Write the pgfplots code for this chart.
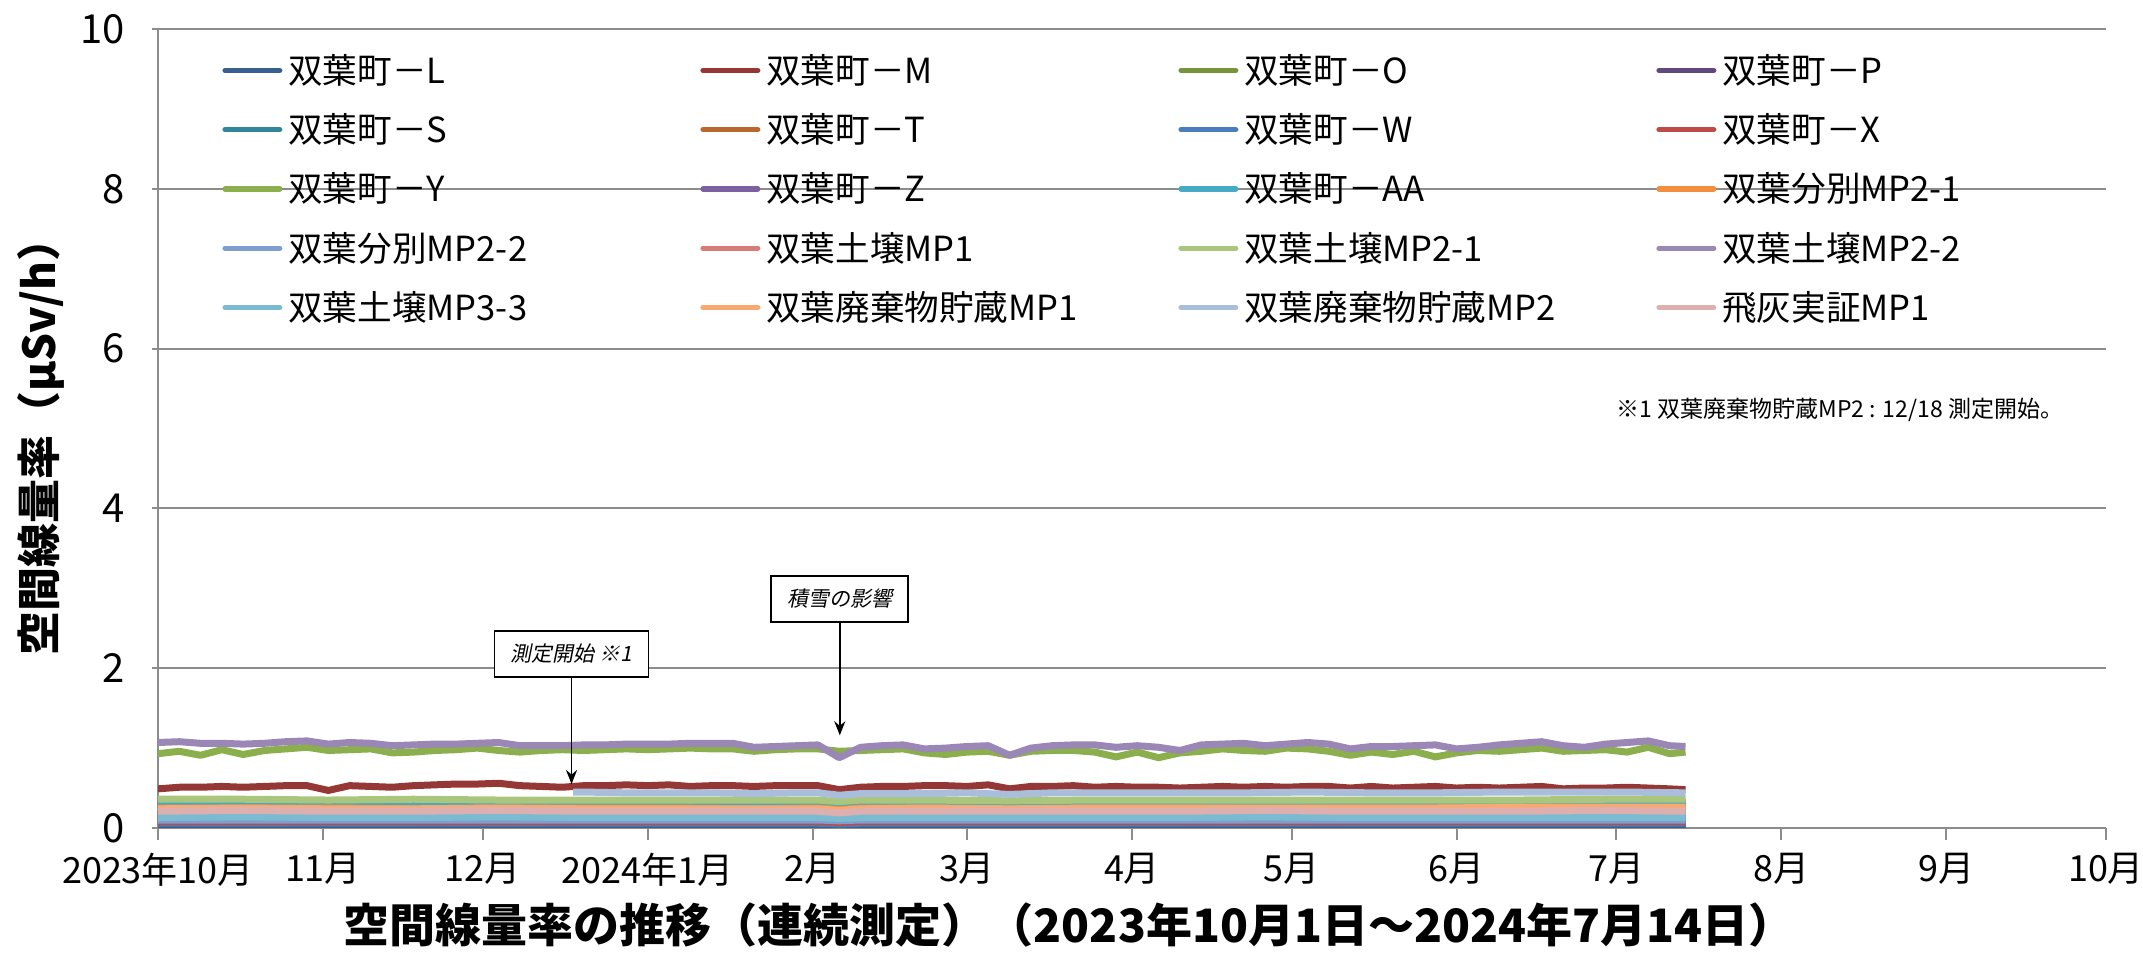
\documentclass[border=0pt]{standalone}
\usepackage{fontspec}
\setmainfont{Noto Sans CJK JP}
\newfontfamily\slantfont[FakeSlant=0.2]{Noto Sans CJK JP}
\usepackage{pgfplots}
\pgfplotsset{compat=1.18}
\usepackage{pgfplotstable}
\usetikzlibrary{arrows.meta}
\definecolor{axgray}{HTML}{8C8C8C}
\definecolor{cL}{HTML}{3A5F8F}
\definecolor{cM}{HTML}{953735}
\definecolor{cO}{HTML}{77933C}
\definecolor{cP}{HTML}{604A7B}
\definecolor{cS}{HTML}{31859C}
\definecolor{cT}{HTML}{B8682F}
\definecolor{cW}{HTML}{4A7EBB}
\definecolor{cX}{HTML}{BE4B48}
\definecolor{cY}{HTML}{8CAF4D}
\definecolor{cZ}{HTML}{7D60A0}
\definecolor{cAA}{HTML}{46AAC5}
\definecolor{cBa}{HTML}{F38E3F}
\definecolor{cBb}{HTML}{7F9ECF}
\definecolor{cSa}{HTML}{D67B77}
\definecolor{cSb}{HTML}{A9C67C}
\definecolor{cSc}{HTML}{9B87B6}
\definecolor{cSd}{HTML}{7BBBD2}
\definecolor{cHa}{HTML}{F9A870}
\definecolor{cHb}{HTML}{A9BEDB}
\definecolor{cF}{HTML}{DDB0AF}

\pgfplotstableread{
d    Y     M     S22
0    0.93  0.49  1.07
4    0.96  0.51  1.08
8    0.91  0.51  1.06
12   0.98  0.52  1.06
16   0.92  0.51  1.05
20   0.97  0.52  1.06
24   0.99  0.53  1.08
28   1.01  0.53  1.09
32   0.97  0.47  1.05
36   0.98  0.53  1.07
40   0.99  0.52  1.06
44   0.94  0.51  1.03
48   0.95  0.53  1.04
52   0.97  0.54  1.05
56   0.98  0.55  1.05
60   1.00  0.55  1.06
64   0.97  0.56  1.07
68   0.95  0.53  1.03
72   0.97  0.52  1.03
76   0.98  0.51  1.03
80   0.97  0.53  1.04
84   0.98  0.53  1.04
88   0.99  0.54  1.05
92   0.98  0.53  1.05
96   0.99  0.54  1.05
100  1.00  0.52  1.06
104  0.99  0.53  1.06
108  0.99  0.53  1.06
112  0.96  0.52  1.01
116  0.98  0.53  1.02
120  0.99  0.53  1.03
124  0.99  0.53  1.04
128  0.96  0.48  0.88
132  0.97  0.51  1.01
136  0.98  0.52  1.03
140  0.99  0.52  1.04
144  0.94  0.53  0.99
148  0.92  0.53  1.00
152  0.95  0.52  1.02
156  0.96  0.54  1.03
160  0.91  0.49  0.91
164  0.96  0.52  1.00
168  0.97  0.52  1.03
172  0.97  0.53  1.04
176  0.95  0.51  1.04
180  0.89  0.52  1.01
184  0.95  0.51  1.03
188  0.88  0.51  1.01
192  0.94  0.50  0.97
196  0.96  0.51  1.04
200  0.99  0.52  1.05
204  0.97  0.51  1.06
208  0.96  0.52  1.03
212  1.00  0.51  1.05
216  0.99  0.52  1.07
220  0.96  0.52  1.05
224  0.91  0.50  0.99
228  0.95  0.52  1.02
232  0.92  0.50  1.02
236  0.96  0.51  1.03
240  0.89  0.52  1.04
244  0.94  0.50  0.99
248  0.97  0.51  1.01
252  0.96  0.50  1.04
256  0.98  0.51  1.06
260  1.00  0.52  1.08
264  0.96  0.49  1.03
268  0.97  0.50  1.01
272  0.98  0.50  1.05
276  0.95  0.51  1.07
280  1.01  0.50  1.09
284  0.93  0.49  1.03
287  0.95  0.48  1.02
}\maintab

\pgfplotstableread{
d   L    O    P    S    T    W    X    Z    AA   Ba   Bb   Sa   Sb   Sd   Ha   F
0   0.05 0.18 0.29 0.32 0.16 0.06 0.08 0.19 0.31 0.25 0.10 0.20 0.36 0.13 0.24 0.21
16  0.05 0.18 0.30 0.32 0.16 0.06 0.08 0.19 0.31 0.25 0.10 0.20 0.36 0.14 0.25 0.22
32  0.05 0.19 0.29 0.33 0.17 0.06 0.08 0.19 0.32 0.25 0.10 0.20 0.35 0.13 0.24 0.21
48  0.05 0.18 0.30 0.32 0.16 0.06 0.08 0.19 0.31 0.24 0.10 0.20 0.36 0.13 0.24 0.21
64  0.05 0.18 0.30 0.33 0.16 0.06 0.08 0.20 0.31 0.25 0.10 0.21 0.35 0.14 0.25 0.22
80  0.05 0.18 0.29 0.32 0.16 0.06 0.08 0.19 0.31 0.25 0.10 0.20 0.35 0.13 0.24 0.21
96  0.05 0.18 0.30 0.32 0.16 0.06 0.08 0.19 0.31 0.25 0.10 0.20 0.35 0.13 0.24 0.21
112 0.05 0.18 0.29 0.32 0.16 0.06 0.08 0.19 0.31 0.24 0.10 0.20 0.35 0.13 0.24 0.21
124 0.05 0.18 0.29 0.32 0.16 0.06 0.08 0.19 0.31 0.25 0.10 0.20 0.35 0.13 0.24 0.21
128 0.05 0.17 0.28 0.30 0.15 0.05 0.07 0.18 0.29 0.23 0.09 0.18 0.33 0.12 0.22 0.19
132 0.05 0.18 0.29 0.32 0.16 0.06 0.08 0.19 0.31 0.25 0.10 0.20 0.35 0.13 0.24 0.21
144 0.05 0.18 0.29 0.32 0.16 0.06 0.08 0.19 0.31 0.25 0.10 0.20 0.35 0.13 0.25 0.21
160 0.05 0.17 0.29 0.31 0.16 0.06 0.08 0.19 0.30 0.24 0.10 0.19 0.34 0.13 0.24 0.21
176 0.05 0.18 0.29 0.32 0.16 0.06 0.08 0.19 0.31 0.25 0.10 0.20 0.35 0.13 0.25 0.21
192 0.05 0.18 0.29 0.32 0.16 0.06 0.08 0.19 0.31 0.25 0.10 0.20 0.35 0.13 0.25 0.21
208 0.05 0.18 0.30 0.32 0.16 0.06 0.08 0.19 0.31 0.25 0.10 0.20 0.35 0.14 0.25 0.22
224 0.05 0.18 0.29 0.32 0.16 0.06 0.08 0.19 0.31 0.25 0.10 0.20 0.35 0.13 0.25 0.21
240 0.05 0.18 0.29 0.32 0.16 0.06 0.08 0.19 0.31 0.25 0.10 0.20 0.35 0.13 0.25 0.21
256 0.05 0.18 0.29 0.32 0.16 0.06 0.08 0.19 0.31 0.25 0.10 0.20 0.35 0.13 0.26 0.21
272 0.05 0.18 0.29 0.32 0.16 0.06 0.08 0.19 0.31 0.25 0.10 0.20 0.36 0.13 0.26 0.22
287 0.05 0.18 0.29 0.32 0.16 0.06 0.08 0.19 0.31 0.25 0.10 0.20 0.36 0.13 0.26 0.21
}\lowtab

\pgfplotstableread{
d   Hb
78  0.45
80  0.45
88  0.44
96  0.44
104 0.44
112 0.43
120 0.44
124 0.44
128 0.41
132 0.43
144 0.43
152 0.44
160 0.42
168 0.44
180 0.44
192 0.44
204 0.44
216 0.45
228 0.44
240 0.44
252 0.45
264 0.45
276 0.45
287 0.44
}\hbtab

\newcommand\LE[1]{\makebox[209pt][l]{\hspace{3pt}#1}}

\begin{document}
\begin{tikzpicture}
\begin{axis}[
  at={(0pt,0pt)}, anchor=south west,
  scale only axis, width=974pt, height=399.5pt,
  xmin=0, xmax=366, ymin=0, ymax=10,
  axis x line*=bottom, axis y line*=left,
  axis line style={draw=axgray, line width=1pt, -},
  xtick={0,31,61,92,123,152,183,213,244,274,305,336,366},
  xticklabels={2023年10月,11月,12月,2024年1月,2月,3月,4月,5月,6月,7月,8月,9月,10月},
  ytick={0,2,4,6,8,10},
  ymajorgrids, grid style={draw=axgray, line width=1pt},
  major tick length=6pt,
  xtick align=outside, ytick align=center,
  tick style={draw=axgray, line width=1pt},
  /pgf/number format/assume math mode=true,
  yticklabel style={font=\fontsize{20}{20}\selectfont, xshift=-10pt},
  xticklabel style={font=\fontsize{18}{18}\selectfont, yshift=-3pt},
  ylabel={\bfseries 空間線量率（μSv/h）},
  ylabel style={font=\fontsize{22}{22}\selectfont, at={(axis description cs:-0.06,0.49)}, anchor=center},
  xlabel={\bfseries 空間線量率の推移（連続測定）（2023年10月1日～2024年7月14日）},
  xlabel style={font=\fontsize{23}{23}\selectfont, at={(axis description cs:0.4677,-0.1214)}, anchor=center},
  legend columns=4,
  legend cell align=left,
  legend style={at={(axis description cs:0,1)}, anchor=north west, xshift=32pt, yshift=-12.5pt,
    draw=none, fill=none, inner sep=0pt, row sep=13.6pt, nodes={inner sep=0pt},
    font=\fontsize{17.3}{17.3}\selectfont},
  legend image code/.code={\draw[#1, line width=2.6pt, line cap=round] (1.3pt,0pt) -- (28.7pt,0pt);},
  every axis plot/.append style={line width=3.5pt, no markers, line join=round},
  unbounded coords=jump,
]
\addplot[color=cL] table[x=d,y=L]{\lowtab}; \addlegendentry{\LE{双葉町－L}}
\addplot[color=cM] table[x=d,y=M]{\maintab}; \addlegendentry{\LE{双葉町－M}}
\addplot[color=cO] table[x=d,y=O]{\lowtab}; \addlegendentry{\LE{双葉町－O}}
\addplot[color=cP] table[x=d,y=P]{\lowtab}; \addlegendentry{\LE{双葉町－P}}
\addplot[color=cS] table[x=d,y=S]{\lowtab}; \addlegendentry{\LE{双葉町－S}}
\addplot[color=cT] table[x=d,y=T]{\lowtab}; \addlegendentry{\LE{双葉町－T}}
\addplot[color=cW] table[x=d,y=W]{\lowtab}; \addlegendentry{\LE{双葉町－W}}
\addplot[color=cX] table[x=d,y=X]{\lowtab}; \addlegendentry{\LE{双葉町－X}}
\addplot[color=cY] table[x=d,y=Y]{\maintab}; \addlegendentry{\LE{双葉町－Y}}
\addplot[color=cZ] table[x=d,y=Z]{\lowtab}; \addlegendentry{\LE{双葉町－Z}}
\addplot[color=cAA] table[x=d,y=AA]{\lowtab}; \addlegendentry{\LE{双葉町－AA}}
\addplot[color=cBa] table[x=d,y=Ba]{\lowtab}; \addlegendentry{\LE{双葉分別MP2-1}}
\addplot[color=cBb] table[x=d,y=Bb]{\lowtab}; \addlegendentry{\LE{双葉分別MP2-2}}
\addplot[color=cSa] table[x=d,y=Sa]{\lowtab}; \addlegendentry{\LE{双葉土壌MP1}}
\addplot[color=cSb] table[x=d,y=Sb]{\lowtab}; \addlegendentry{\LE{双葉土壌MP2-1}}
\addplot[color=cSc] table[x=d,y=S22]{\maintab}; \addlegendentry{\LE{双葉土壌MP2-2}}
\addplot[color=cSd] table[x=d,y=Sd]{\lowtab}; \addlegendentry{\LE{双葉土壌MP3-3}}
\addplot[color=cHa] table[x=d,y=Ha]{\lowtab}; \addlegendentry{\LE{双葉廃棄物貯蔵MP1}}
\addplot[color=cHb] table[x=d,y=Hb]{\hbtab}; \addlegendentry{\LE{双葉廃棄物貯蔵MP2}}
\addplot[color=cF] table[x=d,y=F]{\lowtab}; \addlegendentry{\LE{飛灰実証MP1}}

\node[draw=black, line width=0.9pt, fill=white, minimum width=77pt, minimum height=23pt, inner sep=0pt,
  font=\slantfont\fontsize{10.5}{10.5}\selectfont] (n1) at (axis cs:77.7,2.18) {測定開始 ※1};
\draw[-{Stealth[length=7pt,width=5.5pt]}, line width=0.9pt] (n1.south) -- (axis cs:77.7,0.55);
\node[draw=black, line width=0.9pt, fill=white, minimum width=68.5pt, minimum height=23pt, inner sep=0pt,
  font=\slantfont\fontsize{10.5}{10.5}\selectfont] (n2) at (axis cs:128.1,2.87) {積雪の影響};
\draw[-{Stealth[length=7pt,width=5.5pt]}, line width=0.9pt] (n2.south) -- (axis cs:128.1,1.16);
\node[font=\fontsize{11.5}{11.5}\selectfont] at (axis cs:316,5.23) {※1 双葉廃棄物貯蔵MP2 : 12/18 測定開始。};
\end{axis}
\pgfresetboundingbox
\path[use as bounding box] (-79pt,-65pt) rectangle (992.5pt,414pt);
\end{tikzpicture}
\end{document}
